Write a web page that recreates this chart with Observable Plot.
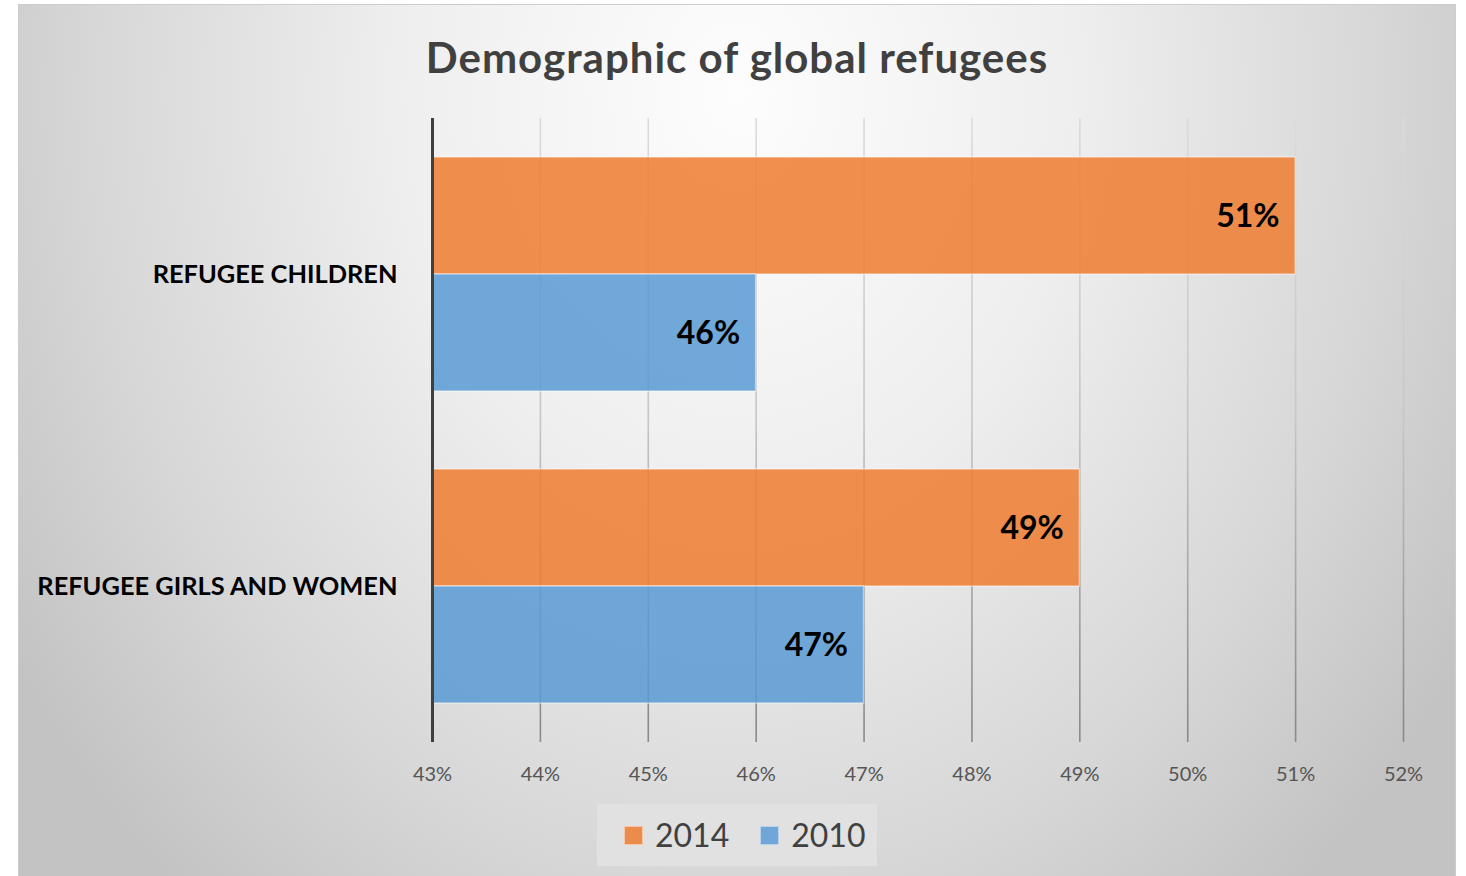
<!DOCTYPE html>
<html>
<head>
<meta charset="utf-8">
<script src="https://cdn.jsdelivr.net/npm/d3@7"></script>
<script src="https://cdn.jsdelivr.net/npm/@observablehq/plot@0.6"></script>
<style>
  html, body { margin: 0; padding: 0; background: #ffffff; width: 1466px; height: 876px; overflow: hidden; font-family: Lato, "Open Sans", sans-serif; }
  #card {
    position: absolute; left: 18px; top: 4px; width: 1438px; height: 884px; box-sizing: border-box;
    border: 1px solid #cdcdcd;
    background: radial-gradient(ellipse 860px 1050px at 50% 10%, #fdfdfd 0%, #eeeeee 40%, #d7d7d7 75%, #c3c3c3 100%);
    overflow: hidden;
  }
  #title { position: absolute; left: 0; width: 100%; top: 27px; text-align: center; font-size: 42px; letter-spacing: 1px; font-weight: 700; color: #404040; line-height: 50px; }
  #chart { position: absolute; left: 0; top: 95px; }
  #legend {
    position: absolute; left: 578px; top: 799px; width: 280px; height: 62px; background: #e1e1e1;
    display: flex; align-items: center; box-sizing: border-box; padding-left: 27px;
    font-size: 32px; color: #404040; white-space: nowrap;
  }
  .sw { flex: 0 0 19px; width: 19px; height: 19px; box-sizing: border-box; border: 1px solid rgba(255,255,255,0.5); margin-right: 12px; }
  .lab { flex: 0 0 auto; margin-right: 31px; line-height: 1; }
</style>
</head>
<body>
<div id="card">
  <div id="title">Demographic of global refugees</div>
  <div id="chart"></div>
  <div id="legend"></div>
</div>
<script>
// ---- data ----
const categories = ["REFUGEE CHILDREN", "REFUGEE GIRLS AND WOMEN"];
const years = ["2014", "2010"];
const values2014 = [51, 49];
const values2010 = [46, 47];
const xTicks = [43, 44, 45, 46, 47, 48, 49, 50, 51, 52];
const seriesColors = ["#ED7D31", "#5B9BD5"];
const legendColors = ["#EC8C4C", "#70A6D8"];

const rows = categories.flatMap((c, i) => [
  {category: c, year: years[0], value: values2014[i]},
  {category: c, year: years[1], value: values2010[i]}
]);
const gridRows = categories.flatMap(c => xTicks.slice(1).map(t => ({category: c, tick: t})));

// ---- layout ----
const W = 1436, H = 690, mL = 413, mR = 52, mT = 18, mB = 48;
const padInner = 0.25, padOuter = 0.125;
const step = (H - mT - mB) / (categories.length - padInner + 2 * padOuter);
const band = step * (1 - padInner);
const halfGap = (step - band) / 2;   // space above/below each facet band

const chart = Plot.plot({
  width: W, height: H,
  marginLeft: mL, marginRight: mR, marginTop: mT, marginBottom: mB,
  style: {background: "transparent", fontFamily: "Lato, 'Open Sans', sans-serif", overflow: "visible"},
  x: {domain: [xTicks[0], xTicks[xTicks.length - 1]], axis: null},
  y: {domain: years, axis: null, padding: 0},
  fy: {domain: categories, axis: null, paddingInner: padInner, paddingOuter: padOuter},
  color: {domain: years, range: seriesColors},
  marks: [
    Plot.ruleX(gridRows.filter(d => d.category === categories[0]), {
      x: "tick", fy: "category", stroke: "url(#gridGradA)", strokeWidth: 1.6,
      insetTop: -halfGap, insetBottom: -halfGap
    }),
    Plot.ruleX(gridRows.filter(d => d.category === categories[1]), {
      x: "tick", fy: "category", stroke: "url(#gridGradB)", strokeWidth: 1.6,
      insetTop: -halfGap, insetBottom: -halfGap
    }),
    Plot.barX(rows, {
      fy: "category", y: "year", x1: xTicks[0], x2: "value",
      fill: "year", fillOpacity: 0.86, stroke: "#ffffff", strokeOpacity: 0.45, strokeWidth: 1.5
    }),
    Plot.text(rows, {
      fy: "category", y: "year", x: "value", text: d => d.value + "%",
      textAnchor: "end", dx: -16, dy: 1, fontSize: 32, fontWeight: 700, fill: "#000000"
    }),
    Plot.text(categories, {
      fy: d => d, text: d => d, frameAnchor: "left", dx: -35, textAnchor: "end",
      fontSize: 25.4, fontWeight: 700, fill: "#000000"
    }),
    Plot.ruleX([xTicks[0]], {stroke: "#3f3f3f", strokeWidth: 3, insetTop: -halfGap, insetBottom: -halfGap}),
    Plot.axisX(xTicks, {
      anchor: "bottom", tickSize: 0, tickPadding: 24 + halfGap,
      tickFormat: d => d + "%", fontSize: 20, color: "#555555", label: null
    })
  ]
});

document.getElementById("chart").appendChild(chart);

// gradients used by the grid rules (coordinates local to each facet band)
const svg = d3.select(chart.tagName.toLowerCase() === "svg" ? chart : chart.querySelector("svg"));
const defs = svg.insert("defs", ":first-child");
function addGrad(id, c0, c1) {
  const g = defs.append("linearGradient")
    .attr("id", id).attr("gradientUnits", "userSpaceOnUse")
    .attr("x1", 0).attr("x2", 0).attr("y1", -halfGap).attr("y2", band + halfGap);
  g.append("stop").attr("offset", "0%").attr("stop-color", c0);
  g.append("stop").attr("offset", "100%").attr("stop-color", c1);
}
addGrad("gridGradA", "#dcdcdc", "#c6c6c6");
addGrad("gridGradB", "#c6c6c6", "#8a8a8a");

// legend
const legend = d3.select("#legend");
years.forEach((y, i) => {
  legend.append("div").attr("class", "sw").style("background", legendColors[i]);
  legend.append("div").attr("class", "lab").text(y);
});
</script>
</body>
</html>
